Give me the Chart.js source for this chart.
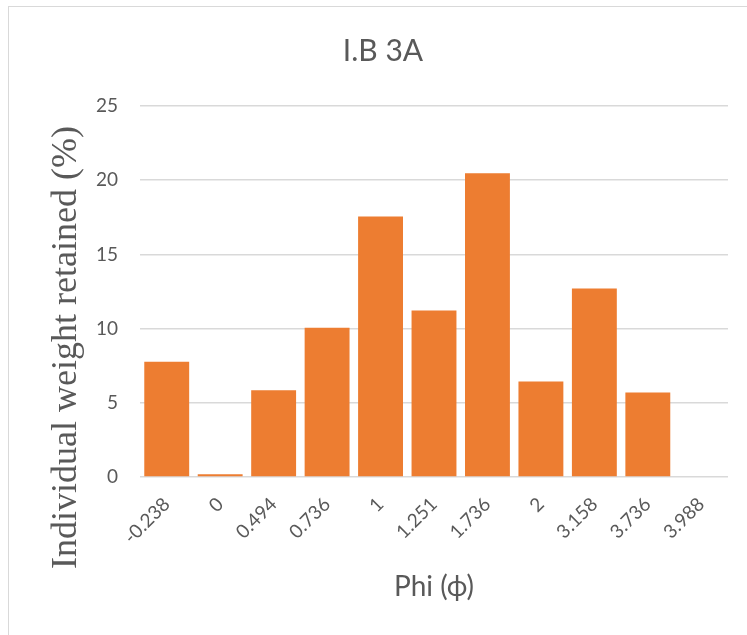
<!DOCTYPE html>
<html>
<head>
<meta charset="utf-8">
<script src="https://cdn.jsdelivr.net/npm/chart.js@4/dist/chart.umd.min.js"></script>
<style>
  html, body { margin: 0; padding: 0; background: #ffffff; }
  #wrap { position: relative; width: 747px; height: 635px; overflow: hidden; }
  #frame { position: absolute; left: 8px; top: 6px; width: 800px; height: 700px;
           border-left: 1.5px solid #d9d9d9; border-top: 1.5px solid #d9d9d9; }
  #c { position: absolute; left: 0; top: 0; }
</style>
</head>
<body>
<div id="wrap">
  <div id="frame"></div>
  <canvas id="c" width="747" height="635"></canvas>
</div>
<script>
// Sieve classes (phi) and the share of the sample retained on each
const phiClasses = ['-0.238', '0', '0.494', '0.736', '1', '1.251', '1.736', '2', '3.158', '3.736', '3.988'];
const weightRetained = [7.76, 0.18, 5.84, 10.06, 17.55, 11.22, 20.47, 6.44, 12.71, 5.70, 0];
const yTicks = [0, 5, 10, 15, 20, 25];

const chartTitle = 'I.B 3A';
const xTitle = 'Phi (\u03D5)';
const yTitle = 'Individual weight retained (%)';

const grey = '#595959';
const barColor = '#ED7D31';
const sans = 'Lato, "Open Sans", sans-serif';

// Serif y-axis caption, placed beside the value axis
const yCaption = {
  id: 'yCaption',
  afterDraw(chart) {
    const ctx = chart.ctx;
    const area = chart.chartArea;
    ctx.save();
    ctx.translate(area.left - 73, (area.top + chart.height) / 2 - 23);
    ctx.rotate(-Math.PI / 2);
    ctx.font = '36px "Liberation Serif", "Times New Roman", serif';
    ctx.fillStyle = grey;
    ctx.textAlign = 'center';
    ctx.textBaseline = 'middle';
    ctx.fillText(yTitle, 0, 0);
    ctx.restore();
  }
};

new Chart(document.getElementById('c'), {
  type: 'bar',
  data: {
    labels: phiClasses,
    datasets: [{
      data: weightRetained,
      backgroundColor: barColor,
      borderWidth: 0,
      barPercentage: 0.84,
      categoryPercentage: 1.0
    }]
  },
  options: {
    responsive: false,
    animation: false,
    layout: { padding: { left: 38, right: 19, top: 0, bottom: 0 } },
    plugins: {
      legend: { display: false },
      tooltip: { enabled: false },
      title: {
        display: true,
        text: chartTitle,
        color: grey,
        font: { family: sans, size: 30, weight: 400 },
        padding: { top: 33, bottom: 37 }
      }
    },
    scales: {
      x: {
        grid: { display: false },
        border: { display: false },
        ticks: {
          color: grey,
          font: { family: sans, size: 19 },
          minRotation: 45,
          maxRotation: 45,
          padding: 8,
          autoSkip: false
        },
        title: {
          display: true,
          text: xTitle,
          color: grey,
          font: { family: sans, size: 28 },
          padding: { top: 0, bottom: 31 }
        },
        afterFit(scale) { scale.height = 158; }
      },
      y: {
        min: 0,
        max: 25,
        afterBuildTicks(scale) { scale.ticks = yTicks.map(v => ({ value: v })); },
        grid: { color: '#d9d9d9', lineWidth: 1.5, drawTicks: false },
        border: { display: false },
        ticks: {
          color: grey,
          font: { family: sans, size: 19 },
          padding: 22
        },
        afterFit(scale) { scale.width = 102; }
      }
    }
  },
  plugins: [yCaption]
});
</script>
</body>
</html>
